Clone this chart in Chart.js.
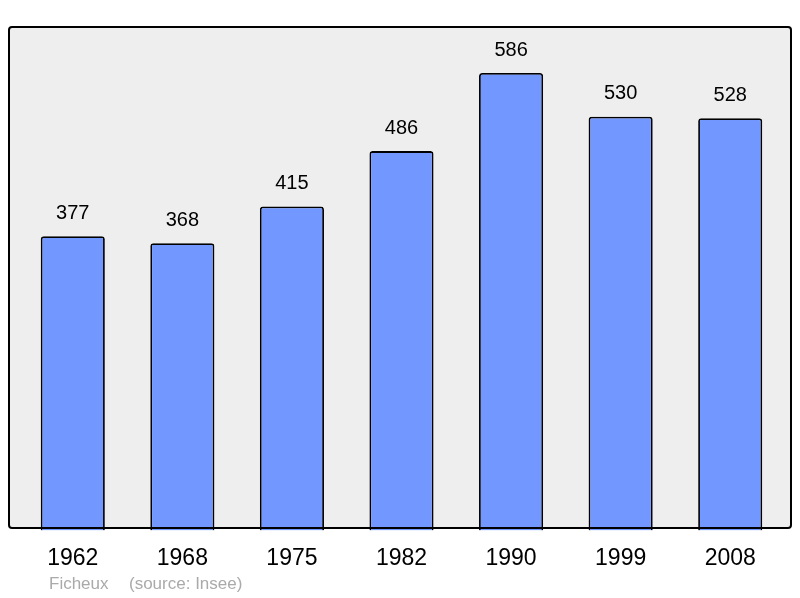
<!DOCTYPE html>
<html>
<head>
<meta charset="utf-8">
<script src="https://cdn.jsdelivr.net/npm/chart.js@4/dist/chart.umd.min.js"></script>
<style>
  html, body { margin: 0; padding: 0; background: #fff; }
  #wrap { width: 800px; height: 598px; }
</style>
</head>
<body>
<div id="wrap"><canvas id="popChart" width="800" height="598"></canvas></div>
<script>
const years = ["1962", "1968", "1975", "1982", "1990", "1999", "2008"];
const population = [377, 368, 415, 486, 586, 530, 528];
const yMax = 645;

/* background box + value labels + footer */
const framePlugin = {
  id: "frame",
  beforeDatasetsDraw(chart) {
    const ctx = chart.ctx;
    ctx.save();
    ctx.fillStyle = "#eeeeee";
    ctx.beginPath();
    ctx.roundRect(9, 27, 782, 501, 3);
    ctx.fill();
    ctx.restore();
  },
  afterDatasetsDraw(chart) {
    const ctx = chart.ctx;
    ctx.save();
    ctx.strokeStyle = "#000";
    ctx.lineWidth = 2;
    ctx.beginPath();
    ctx.roundRect(9, 27, 782, 501, 3);
    ctx.stroke();

    ctx.fillStyle = "#000";
    ctx.font = "20px 'Liberation Sans', Arial, sans-serif";
    ctx.textAlign = "center";
    ctx.textBaseline = "middle";
    chart.getDatasetMeta(0).data.forEach((bar, i) => {
      ctx.fillText(population[i], bar.x, bar.y - 23);
    });

    ctx.fillStyle = "#aaaaaa";
    ctx.font = "17px 'Liberation Sans', Arial, sans-serif";
    ctx.textAlign = "left";
    ctx.fillText("Ficheux", 49, 584);
    ctx.fillText("(source: Insee)", 129, 584);
    ctx.restore();
  }
};

new Chart(document.getElementById("popChart"), {
  type: "bar",
  data: {
    labels: years,
    datasets: [{
      data: population,
      backgroundColor: "#7298ff",
      borderColor: "#000",
      borderWidth: 1.8,
      borderRadius: 3,
      barPercentage: 0.585,
      categoryPercentage: 1
    }]
  },
  options: {
    responsive: false,
    animation: false,
    layout: { padding: { top: 27, left: 18, right: 15, bottom: 12 } },
    plugins: { legend: { display: false }, tooltip: { enabled: false } },
    scales: {
      x: {
        grid: { display: false, drawTicks: false },
        border: { display: false },
        ticks: {
          color: "#000",
          padding: 14,
          font: { family: "'Liberation Sans', Arial, sans-serif", size: 23 }
        }
      },
      y: {
        display: false,
        min: 0,
        max: yMax
      }
    }
  },
  plugins: [framePlugin]
});
</script>
</body>
</html>
